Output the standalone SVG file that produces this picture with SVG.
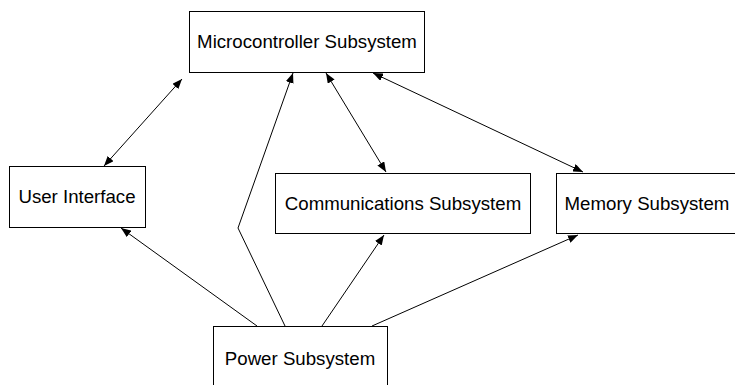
<svg xmlns="http://www.w3.org/2000/svg" width="735" height="385" viewBox="0 0 735 385">
<style>
.box{fill:#fff;stroke:#000;stroke-width:1}
.lbl{font-family:"Liberation Sans",Arial,sans-serif;font-size:18.67px;fill:#000;text-anchor:middle}
.c{fill:none;stroke:#000;stroke-width:1}
</style>
<defs>
<marker id="ah" viewBox="0 0 10 8" refX="10" refY="4" markerWidth="10" markerHeight="8" markerUnits="userSpaceOnUse" orient="auto-start-reverse">
<path d="M0,0 L10,4 L0,8 Z" fill="#000"/>
</marker>
</defs>
<rect width="735" height="385" fill="#fff"/>
<g id="connectors">
<line class="c" x1="104" y1="166" x2="182" y2="79" marker-start="url(#ah)" marker-end="url(#ah)"/>
<polyline class="c" points="285,326 238,228 293,73" marker-end="url(#ah)"/>
<line class="c" x1="326" y1="73" x2="386" y2="172" marker-start="url(#ah)" marker-end="url(#ah)"/>
<line class="c" x1="373" y1="73" x2="583" y2="172" marker-start="url(#ah)" marker-end="url(#ah)"/>
<line class="c" x1="257" y1="326" x2="121" y2="228" marker-end="url(#ah)"/>
<line class="c" x1="322" y1="326" x2="384" y2="235" marker-end="url(#ah)"/>
<line class="c" x1="372" y1="326" x2="578" y2="235" marker-end="url(#ah)"/>
</g>
<g id="micro">
<rect class="box" x="189.5" y="11.5" width="235" height="61"/>
<text class="lbl" x="307" y="48">Microcontroller Subsystem</text>
</g>
<g id="ui">
<rect class="box" x="9.5" y="166.5" width="136" height="61"/>
<text class="lbl" x="77" y="203">User Interface</text>
</g>
<g id="comms">
<rect class="box" x="275.5" y="173.5" width="255" height="60"/>
<text class="lbl" x="403" y="210">Communications Subsystem</text>
</g>
<g id="memory">
<rect class="box" x="556.5" y="173.5" width="182" height="60"/>
<text class="lbl" x="647" y="210">Memory Subsystem</text>
</g>
<g id="power">
<rect class="box" x="213.5" y="326.5" width="174" height="70"/>
<text class="lbl" x="300" y="365">Power Subsystem</text>
</g>
</svg>
